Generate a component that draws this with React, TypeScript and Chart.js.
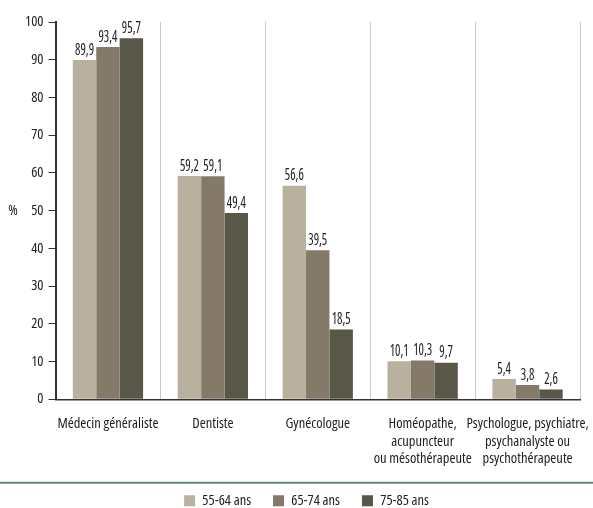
import React, { useEffect, useRef } from "react";
import { Chart, registerables } from "chart.js";

Chart.register(...registerables);

const categories: string[][] = [
  ["Médecin généraliste"],
  ["Dentiste"],
  ["Gynécologue"],
  ["Homéopathe,", "acupuncteur", "ou mésothérapeute"],
  ["Psychologue, psychiatre,", "psychanalyste ou", "psychothérapeute"],
];
const seriesNames = ["55-64 ans", "65-74 ans", "75-85 ans"];
const values5564 = [89.9, 59.2, 56.6, 10.1, 5.4];
const values6574 = [93.4, 59.1, 39.5, 10.3, 3.8];
const values7585 = [95.7, 49.4, 18.5, 9.7, 2.6];
const seriesColors = ["#b9b09f", "#857a6a", "#585748"];
const yMin = 0;
const yMax = 100;
const yStep = 10;
const yAxisLabel = "%";

const FAMILY = '"Open Sans", sans-serif';
const STRETCH = "condensed";
const FS = 14.5;
const TEXT = "#222222";
const CANVAS_FONT = `${STRETCH} ${FS}px ${FAMILY}`;

const valueLabels = {
  id: "valueLabels",
  afterDatasetsDraw(chart: any) {
    const ctx = chart.ctx;
    chart.data.datasets.forEach((ds: any, i: number) => {
      const meta = chart.getDatasetMeta(i);
      meta.data.forEach((bar: any, j: number) => {
        const v = ds.data[j] as number;
        ctx.save();
        ctx.font = `${STRETCH} 15.5px ${FAMILY}`;
        ctx.fillStyle = TEXT;
        ctx.textAlign = "center";
        ctx.textBaseline = "bottom";
        ctx.translate(bar.x, bar.y - 2);
        ctx.scale(0.82, 1);
        ctx.fillText(v.toFixed(1).replace(".", ","), 0, 0);
        ctx.restore();
      });
    });
  },
};

const decorations = {
  id: "decorations",
  afterDraw(chart: any) {
    const ctx = chart.ctx;
    const area = chart.chartArea;
    ctx.save();
    ctx.font = CANVAS_FONT;
    ctx.fillStyle = TEXT;
    ctx.textAlign = "center";
    ctx.textBaseline = "middle";
    ctx.fillText(yAxisLabel, 13, (area.top + area.bottom) / 2);
    const hb = chart.legend.legendHitBoxes && chart.legend.legendHitBoxes[0];
    const ly = hb ? hb.top + hb.height / 2 - 18 : chart.legend.top;
    ctx.strokeStyle = "#5f8a80";
    ctx.lineWidth = 2;
    ctx.beginPath();
    ctx.moveTo(0, ly);
    ctx.lineTo(chart.width, ly);
    ctx.stroke();
    ctx.restore();
  },
};

export default function App() {
  const ref = useRef<HTMLCanvasElement | null>(null);
  useEffect(() => {
    document.body.style.margin = "0";
    document.body.style.overflow = "hidden";
    if (!ref.current) return;
    const font = { family: FAMILY, size: FS, weight: STRETCH as any };
    const chart = new Chart(ref.current, {
      type: "bar",
      data: {
        labels: categories,
        datasets: [
          { label: seriesNames[0], data: values5564, backgroundColor: seriesColors[0] },
          { label: seriesNames[1], data: values6574, backgroundColor: seriesColors[1] },
          { label: seriesNames[2], data: values7585, backgroundColor: seriesColors[2] },
        ],
      },
      options: {
        animation: false,
        responsive: false,
        maintainAspectRatio: false,
        datasets: { bar: { categoryPercentage: 0.67, barPercentage: 1 } },
        layout: { padding: { left: 20, right: 0, top: 22, bottom: -10 } },
        scales: {
          x: {
            grid: { display: true, color: "#c8c8c8", lineWidth: 1, drawTicks: false, offset: true },
            border: { display: true, color: "#333333", width: 1.5 },
            ticks: {
              color: TEXT,
              font: { ...font, lineHeight: 1.2 },
              padding: 16,
              maxRotation: 0,
              autoSkip: false,
            },
            afterFit: (scale: any) => {
              scale.paddingLeft = 0;
              scale.paddingRight = 13;
              scale.height -= 12;
            },
          },
          y: {
            min: yMin,
            max: yMax,
            ticks: {
              stepSize: yStep,
              color: TEXT,
              font,
              padding: 5,
            },
            grid: { drawOnChartArea: false, drawTicks: true, tickLength: 7, color: "#333333" },
            border: { display: true, color: "#333333", width: 2 },
          },
        },
        plugins: {
          legend: {
            position: "bottom",
            labels: {
              boxWidth: 11,
              boxHeight: 11,
              padding: 22,
              color: TEXT,
              font,
            },
          },
          tooltip: { enabled: false },
        },
      },
      plugins: [valueLabels, decorations],
    });
    return () => chart.destroy();
  }, []);
  return (
    <div style={{ width: 593, height: 508, position: "relative" }}>
      <canvas ref={ref} width={593} height={508} style={{ display: "block" }} />
    </div>
  );
}
